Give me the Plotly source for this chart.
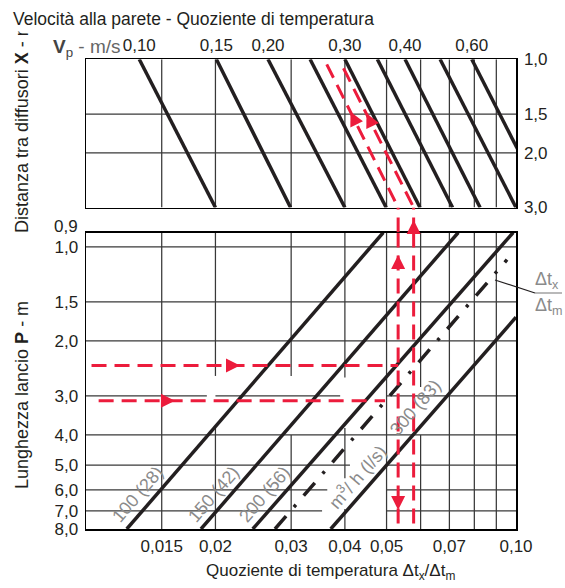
import numpy as np
import plotly.graph_objects as go

# ---------------- data ----------------
# Top panel: wall-velocity lines V_p (m/s); quotient Δt_x/Δt_m where each line
# meets X = 1.0 m (top edge) and X = 3.0 m (bottom edge)
vel_v = [0.10, 0.15, 0.20, 0.25, 0.30, 0.35, 0.40, 0.50, 0.60]
vel_q_x1 = [0.0133, 0.0201, 0.0265, 0.0332, 0.0400, 0.0476, 0.0552, 0.0666, 0.0789]
vel_q_x3 = [0.0200, 0.0299, 0.0400, 0.0499, 0.0598, 0.0712, 0.0825, 0.1000, 0.1183]
vel_tick_v = [0.10, 0.15, 0.20, 0.30, 0.40, 0.60]
vel_tick_text = ["0,10", "0,15", "0,20", "0,30", "0,40", "0,60"]

dist_ticks = [1.0, 1.5, 2.0, 3.0]
dist_text = ["1,0", "1,5", "2,0", "3,0"]

# Bottom panel axes
throw_ticks = [1.0, 1.5, 2.0, 3.0, 4.0, 5.0, 6.0, 7.0, 8.0]
throw_text = ["1,0", "1,5", "2,0", "3,0", "4,0", "5,0", "6,0", "7,0", "8,0"]
quot_ticks = [0.015, 0.02, 0.03, 0.04, 0.05, 0.07, 0.10]
quot_text = ["0,015", "0,02", "0,03", "0,04", "0,05", "0,07", "0,10"]
quot_grid = [0.015, 0.02, 0.03, 0.04, 0.05, 0.06, 0.07, 0.08, 0.09]

# bottom-panel grid pieces (gaps as in the drawing)
vgrid_q = [0.015, 0.02, 0.02, 0.03, 0.03, 0.04, 0.04, 0.04, 0.05, 0.06, 0.06, 0.07, 0.08, 0.09]
vgrid_p0 = [0.9, 0.9, 3.8, 0.9, 4.0, 0.9, 3.8, 6.9, 0.9, 0.9, 4.0, 0.9, 0.9, 0.9]
vgrid_p1 = [8.0, 2.59, 8.0, 2.59, 8.0, 2.62, 5.5, 8.0, 8.0, 2.81, 8.0, 8.0, 8.0, 8.0]
hgrid_p = [1.0, 1.5, 2.0, 3.0, 3.0, 3.0, 4.0, 5.0, 5.0, 6.0, 6.0, 7.0, 7.0]
hgrid_q0 = [0.01, 0.01, 0.01, 0.01, 0.0200, 0.05, 0.01, 0.01, 0.05, 0.01, 0.05, 0.01, 0.05]
hgrid_q1 = [0.1, 0.1, 0.1, 0.0191, 0.0390, 0.1, 0.1, 0.0411, 0.1, 0.0364, 0.1, 0.0354, 0.1]

# air-flow lines m3/h (l/s): end points (quotient, throw P)
flow_q = [[0.01244, 0.04913], [0.01851, 0.07341], [0.02442, 0.0985], [0.03708, 0.1]]
flow_p = [[8.0, 0.9], [8.0, 0.9], [8.0, 0.9], [8.0, 1.68]]
ratio_q = [0.02751, 0.0953]
ratio_p = [8.0, 1.10]
flow_label_text = ["100 (28)", "150 (42)", "200 (56)", "m<sup>3</sup>/ h (l/s)", "300 (83)"]
flow_label_q = [0.01321, 0.01984, 0.02607, 0.0428, 0.05823]
flow_label_p = [6.18, 6.18, 6.18, 5.45, 3.28]

# worked example (red)
ex_q = [0.0532, 0.0578]                 # verticals
ex_diag_q0 = [0.0363, 0.0397]
ex_diag_x0 = [1.038, 1.069]
ex_h_p = [2.40, 3.11]
ex_h_q0 = [0.0103, 0.0107]
ex_h_q1 = [0.0532, 0.0496]
arr_b_q = [0.02281, 0.01610, 0.0532, 0.0532]
arr_b_p = [2.40, 3.11, 1.062, 6.95]
arr_b_sym = ["arrow-right", "arrow-right", "arrow-up", "arrow-down"]
arr_t_q = [0.04122, 0.04490]
arr_t_x = [1.4755, 1.4931]

# ---------------- figure ----------------
W, H = 565, 588
FONT = "Liberation Sans, Arial, sans-serif"
INK = "#231f20"
RED = "#ec1c3c"
GRID = "#383838"
GREY = "#8a8a8a"

XDOM = [86 / W, 516 / W]
Y_TOP = [1 - 207.5 / H, 1 - 59.3 / H]
Y_BOT = [1 - 529 / H, 1 - 232.5 / H]
Y_GAP = [1 - 232.5 / H, 1 - 207.5 / H]

fig = go.Figure()


def lines(xs, ys, xa, ya, color, width, dash="solid"):
    fig.add_trace(go.Scatter(x=xs, y=ys, xaxis=xa, yaxis=ya, mode="lines",
                             line=dict(color=color, width=width, dash=dash),
                             hoverinfo="skip", showlegend=False))


def joined(pairs_x, pairs_y):
    xs, ys = [], []
    for a, b in zip(pairs_x, pairs_y):
        xs += list(a) + [None]
        ys += list(b) + [None]
    return xs, ys


# top grid
gx, gy = joined([(q, q) for q in quot_grid], [(dist_ticks[0], dist_ticks[-1])] * len(quot_grid))
hx, hy = joined([(0.01, 0.1)] * 2, [(d, d) for d in dist_ticks[1:-1]])
lines(gx + hx, gy + hy, "x2", "y2", GRID, 1.25)

# bottom grid
gx, gy = joined([(q, q) for q in vgrid_q], list(zip(vgrid_p0, vgrid_p1)))
hx, hy = joined(list(zip(hgrid_q0, hgrid_q1)), [(p, p) for p in hgrid_p])
lines(gx + hx, gy + hy, "x", "y", GRID, 1.25)

# velocity lines
vx, vy = joined(list(zip(vel_q_x1, vel_q_x3)), [(1.0, 3.0)] * len(vel_v))
lines(vx, vy, "x2", "y2", INK, 3.5)

# flow lines
fx, fy = joined(flow_q, flow_p)
lines(fx, fy, "x", "y", INK, 3.5)
lines(ratio_q, ratio_p, "x", "y", INK, 3.5, dash="17px,12px,3px,12px")

# red example
RD = "15px,8px"
for q0, x0, q1 in zip(ex_diag_q0, ex_diag_x0, ex_q):
    lines([q0, q1], [x0, 3.0], "x2", "y2", RED, 3, RD)
for q in ex_q:
    lines([q, q], [0, 1], "x3", "y3", RED, 3, RD)
    lines([q, q], [0.9, 8.0], "x", "y", RED, 3, RD)
for p, q0, q1 in zip(ex_h_p, ex_h_q0, ex_h_q1):
    lines([q0, q1], [p, p], "x", "y", RED, 3, RD)

fig.add_trace(go.Scatter(x=arr_b_q, y=arr_b_p, xaxis="x", yaxis="y", mode="markers",
                         marker=dict(symbol=arr_b_sym, size=14, color=RED, line=dict(width=0)),
                         cliponaxis=False, hoverinfo="skip", showlegend=False))
fig.add_trace(go.Scatter(x=[ex_q[1]], y=[0.5], xaxis="x3", yaxis="y3", mode="markers",
                         marker=dict(symbol="arrow-up", size=14, color=RED, line=dict(width=0)),
                         cliponaxis=False, hoverinfo="skip", showlegend=False))
fig.add_trace(go.Scatter(x=arr_t_q, y=arr_t_x, xaxis="x2", yaxis="y2", mode="markers",
                         marker=dict(symbol="arrow-up", size=14, color=RED, angle=-26, line=dict(width=0)),
                         cliponaxis=False, hoverinfo="skip", showlegend=False))

TICKF = dict(family=FONT, size=17, color=INK)
common = dict(showgrid=False, zeroline=False, showline=True, mirror=True, linecolor="black",
              linewidth=1.5, ticks="", tickfont=TICKF, automargin=False, fixedrange=True)
vel_tick_q = [vel_q_x1[vel_v.index(v)] for v in vel_tick_v]

fig.update_layout(
    width=W, height=H, margin=dict(l=0, r=0, t=0, b=0), template="none",
    paper_bgcolor="white", plot_bgcolor="rgba(0,0,0,0)", showlegend=False,
    xaxis=dict(type="log", range=[-2, -1], domain=XDOM, anchor="y", tickmode="array",
               tickvals=quot_ticks, ticktext=quot_text, ticklabelstandoff=1, **common),
    yaxis=dict(type="log", range=[np.log10(8), np.log10(0.9)], domain=Y_BOT, anchor="x",
               tickmode="array", tickvals=throw_ticks, ticktext=throw_text, ticklabelstandoff=3, **common),
    xaxis2=dict(type="log", range=[-2, -1], domain=XDOM, anchor="y2", side="top", tickmode="array",
                tickvals=vel_tick_q, ticktext=vel_tick_text, ticklabelstandoff=0, **common),
    yaxis2=dict(type="log", range=[np.log10(3), 0], domain=Y_TOP, anchor="x2", side="right",
                tickmode="array", tickvals=dist_ticks, ticktext=dist_text, ticklabelstandoff=3, **common),
    xaxis3=dict(type="log", range=[-2, -1], domain=XDOM, anchor="y3", visible=False, fixedrange=True),
    yaxis3=dict(range=[0, 1], domain=Y_GAP, anchor="x3", visible=False, fixedrange=True),
)


def note(text, x, y, size, color, xref="paper", yref="paper", **kw):
    d = dict(text=text, x=x, y=y, xref=xref, yref=yref, showarrow=False,
             xanchor=kw.pop("xanchor", "center"), yanchor=kw.pop("yanchor", "middle"),
             font=dict(family=FONT, size=size, color=color))
    d.update(kw)
    return d


ann = []
for t, q, p in zip(flow_label_text, flow_label_q, flow_label_p):
    ann.append(note(t, np.log10(q), np.log10(p), 18, GREY, xref="x", yref="y", textangle=-49))
ann.append(note("0,9", XDOM[0], np.log10(0.9), 17, INK, yref="y", xanchor="right", xshift=-6, yshift=6))
ann.append(note("Distanza tra diffusori <b>X</b> - m", 22 / W, 1 - 235 / H, 18, INK,
                yanchor="bottom", textangle=-90))
ann.append(note("Lunghezza lancio <b>P</b> - m", 22 / W, 1 - 395 / H, 18, INK, textangle=-90))
ann.append(note("Velocità alla parete - Quoziente di temperatura", 10 / W, 1 - 19 / H, 17.5, INK,
                xanchor="left", bgcolor="white", borderpad=2))
ann.append(note('<b>V</b><sub>p</sub><span style="color:#666"> - m/s</span>', 87 / W, 1 - 47.5 / H,
                19, "#444"))
ann.append(note("Quoziente di temperatura Δt<sub>x</sub>/Δt<sub>m</sub>", 330 / W, 1 - 572 / H, 17, INK))
ann.append(note("Δt<sub>x</sub>", 547 / W, 1 - 280 / H, 18, GREY))
ann.append(note("Δt<sub>m</sub>", 549 / W, 1 - 306 / H, 18, GREY))
fig.update_layout(annotations=ann)

fig.add_shape(type="line", xref="paper", yref="paper", x0=535 / W, x1=562 / W, y0=1 - 293 / H,
              y1=1 - 293 / H, line=dict(color=GREY, width=1.2))
fig.add_shape(type="line", xref="paper", yref="paper", x0=495 / W, x1=535 / W, y0=1 - 280 / H,
              y1=1 - 293 / H, line=dict(color=INK, width=1.2))

fig.write_html("out.html", config={"displayModeBar": False, "staticPlot": True},
               post_script="document.body.style.margin='0';")
